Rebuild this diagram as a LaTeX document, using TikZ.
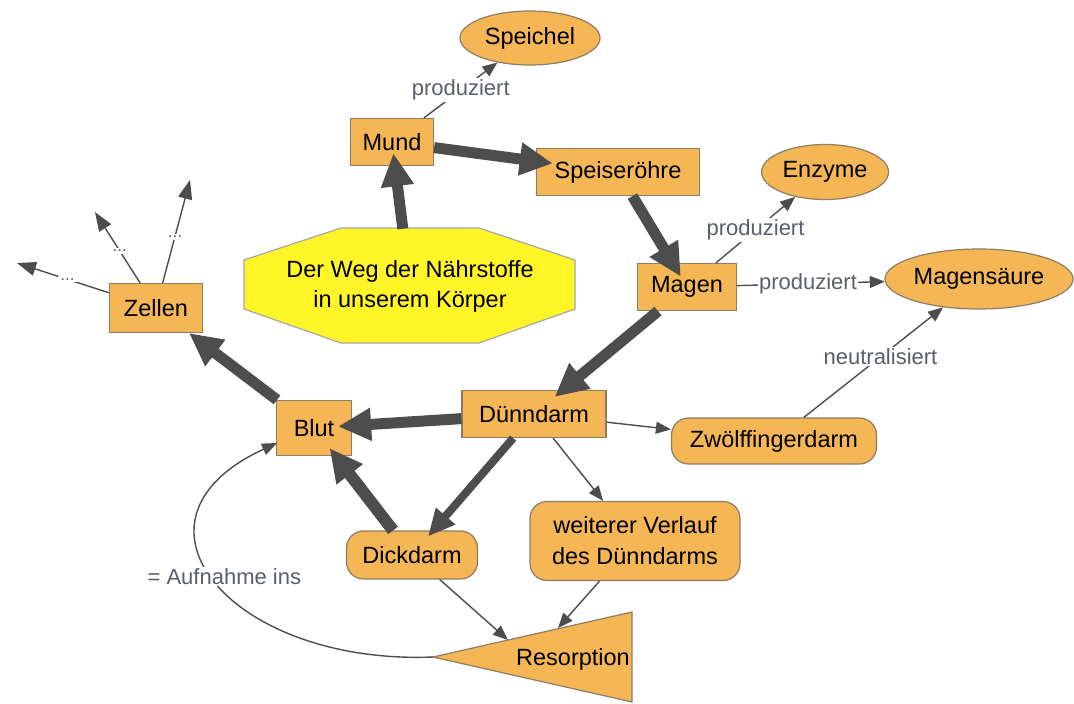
\documentclass[tikz,border=0pt]{standalone}
\usepackage{fontspec}
\setmainfont{Liberation Sans}
\usetikzlibrary{arrows.meta,shapes.geometric}
\definecolor{nodeorange}{RGB}{245,182,85}
\definecolor{nodeborder}{RGB}{140,125,100}
\definecolor{octyellow}{RGB}{255,245,40}
\definecolor{arrowgray}{RGB}{77,77,77}
\definecolor{labelgray}{RGB}{90,95,105}
\tikzset{
  base/.style={fill=nodeorange, draw=nodeborder, line width=1.2pt, text=black,
    font=\fontsize{23.5}{31}\selectfont, inner sep=0pt, align=center},
  box/.style={base, rectangle},
  rbox/.style={base, rectangle, rounded corners=17pt},
  ell/.style={base, ellipse},
  fat/.style={draw=arrowgray, line width=11pt,
    -{Triangle[length=33pt,width=31pt]}},
  slim/.style={draw=arrowgray, line width=1.4pt,
    -{Triangle[length=15pt,width=12pt]}},
  lab/.style={fill=white, text=labelgray, font=\fontsize{22}{26}\selectfont,
    inner sep=1.5pt},
  dots/.style={fill=white, text=labelgray, font=\fontsize{17}{19}\selectfont,
    inner sep=2pt},
}
\begin{document}
\begin{tikzpicture}[x=1pt,y=-1pt]
\useasboundingbox (0,0) rectangle (1074,704);
\fill[white] (0,0) rectangle (1074,704);

% octagon title
\draw[fill=octyellow, draw=gray!70, line width=1.2pt]
  (341,228) -- (479,228) -- (575,260) -- (575,309) -- (479,343) -- (341,343)
  -- (244,309) -- (244,260) -- cycle;
\node[minimum width=331pt, minimum height=115pt, inner sep=0pt, align=center,
  font=\fontsize{23.5}{29.5}\selectfont] (title) at (410,286.5)
  {Der Weg der Nährstoffe\\in unserem Körper};

% triangle Resorption
\draw[fill=nodeorange, draw=nodeborder, line width=1.2pt]
  (433,657) -- (632,612) -- (632,702) -- cycle;
\node[font=\fontsize{23.5}{29}\selectfont] (res) at (573,659) {Resorption};
\coordinate (resA) at (508,640);
\coordinate (resB) at (558,628);
\coordinate (resC) at (433,657);

% nodes
\node[ell, minimum width=140pt, minimum height=54pt] (speichel) at (530,38) {Speichel};
\node[box, minimum width=83pt, minimum height=47pt] (mund) at (392,142) {Mund};
\node[box, minimum width=163pt, minimum height=47pt] (speise) at (618,172) {Speiseröhre};
\node[ell, minimum width=127pt, minimum height=55pt] (enzyme) at (825,172) {Enzyme};
\node[box, minimum width=99pt, minimum height=47pt] (magen) at (687,287) {Magen};
\node[ell, minimum width=188pt, minimum height=60pt] (saeure) at (979,279) {Magensäure};
\node[box, minimum width=93pt, minimum height=49pt] (zellen) at (156,308) {Zellen};
\node[box, minimum width=75pt, minimum height=55pt] (blut) at (314,428) {Blut};
\node[box, minimum width=144pt, minimum height=47pt] (duenn) at (534,414) {Dünndarm};
\node[rbox, minimum width=205pt, minimum height=46pt] (zwoelf) at (774,441) {Zwölffingerdarm};
\node[rbox, minimum width=131pt, minimum height=48pt] (dick) at (412,555) {Dickdarm};
\node[rbox, minimum width=210pt, minimum height=79pt] (weiter) at (635,541) {weiterer Verlauf\\des Dünndarms};

\coordinate (z1) at (17,263);
\coordinate (z2) at (95,212);
\coordinate (z3) at (190,180);
\coordinate (blutin) at (277,443);

% thick arrows
\draw[fat, shorten >=-13pt] (title) -- (mund);
\draw[fat, shorten >=-17pt] (mund) -- (speise);
\draw[fat, shorten >=-16pt] (speise) -- (magen);
\draw[fat, shorten >=-11pt] (magen) -- (duenn);
\draw[fat, shorten >=-14pt] (duenn) -- (blut);
\draw[draw=arrowgray, line width=8pt, -{Triangle[length=27pt,width=24pt]}, shorten >=-8pt] (duenn) -- (dick);
\draw[fat, line width=12pt, shorten >=-10pt] (dick) -- (blut);
\draw[fat] (blut) -- (zellen);

% thin arrows
\draw[slim] (mund) -- node[lab] {produziert} (speichel);
\draw[slim] (magen) -- node[lab] {produziert} (enzyme);
\draw[slim] (magen) -- node[lab, pos=0.48] {produziert} (saeure);
\draw[slim] (zwoelf) -- node[lab, pos=0.55] {neutralisiert} (saeure);
\draw[slim] (duenn) -- (zwoelf);
\draw[slim] (duenn) -- (weiter);
\draw[slim] (dick) -- (resA);
\draw[slim] (weiter) -- (resB);
\draw[slim] (resC) .. controls (230,665) and (110,520) .. node[lab, pos=0.52, xshift=12pt] {= Aufnahme ins} (blutin);

\draw[slim, -{Triangle[length=19pt,width=14pt]}] (zellen) -- node[dots, pos=0.45] {...} (z1);
\draw[slim, -{Triangle[length=19pt,width=14pt]}] (zellen) -- node[dots, pos=0.45] {...} (z2);
\draw[slim, -{Triangle[length=19pt,width=14pt]}] (zellen) -- node[dots, pos=0.45] {...} (z3);
\end{tikzpicture}
\end{document}
